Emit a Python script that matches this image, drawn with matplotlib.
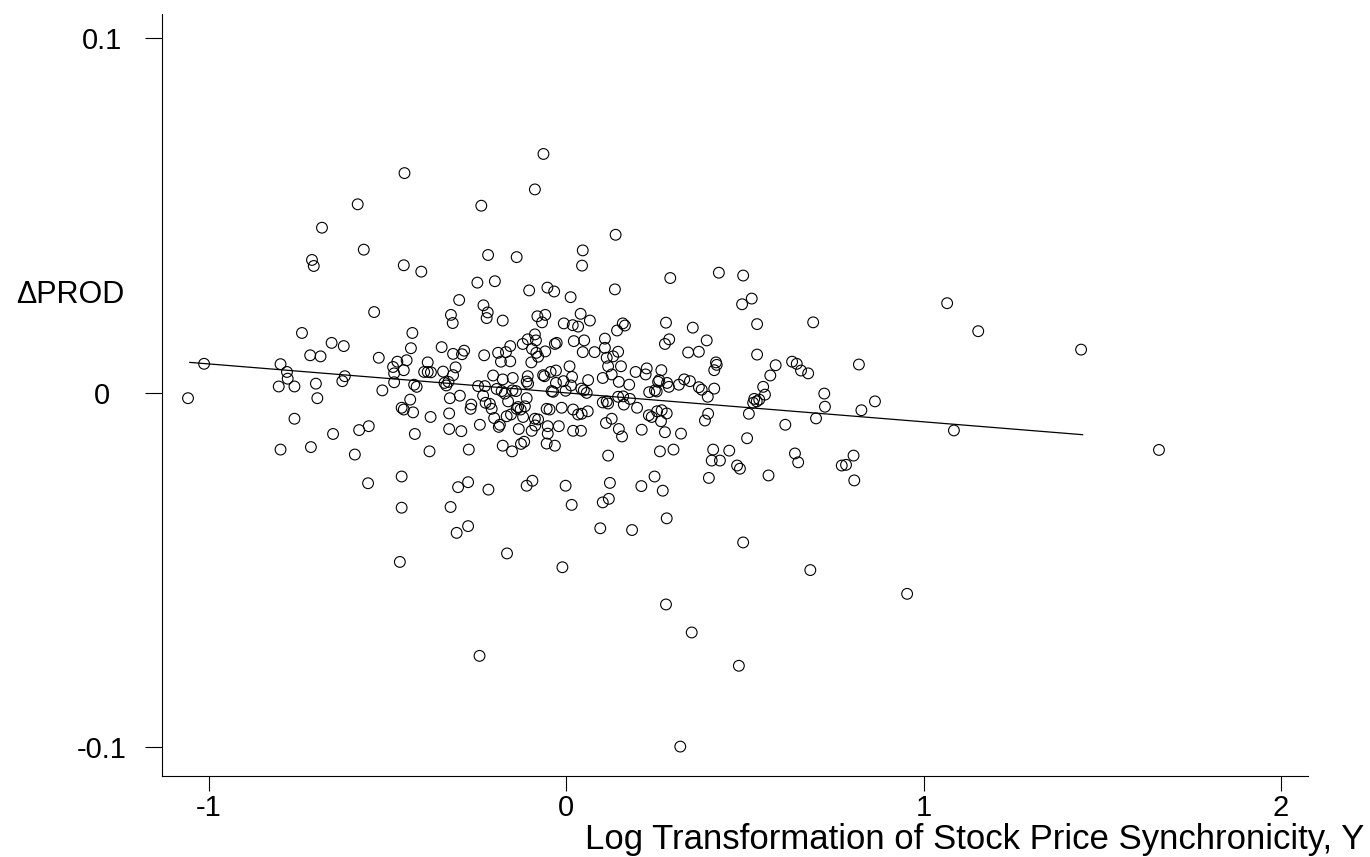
import matplotlib
matplotlib.use("Agg")
import matplotlib.pyplot as plt

# log transformation of stock price synchronicity (x) and change in productivity (y)
sync = [
    -0.584, -0.684, -0.567, -0.712, -0.707, -0.538, -0.740, -0.657, -0.623, -0.717,
    -0.688, -0.525, -1.014, -0.800, -0.473, -0.485, -0.482, -0.782, -0.780, -0.620,
    -0.627, -0.482, -0.805, -0.761, -0.701, -0.515, -1.059, -0.697, -0.761, -0.553,
    -0.580, -0.653, -0.592, -0.800, -0.715, -0.555, -0.466, -0.064, -0.453, -0.088,
    -0.238, 0.046, 0.044, -0.219, -0.139, -0.455, -0.406, -0.249, -0.200, -0.104,
    -0.053, -0.034, 0.012, -0.300, -0.232, -0.220, -0.223, -0.323, -0.318, -0.178,
    -0.081, -0.059, -0.068, 0.040, 0.066, -0.007, 0.018, 0.033, -0.431, -0.435,
    -0.349, -0.317, -0.292, -0.286, -0.230, -0.191, -0.169, -0.157, -0.183, -0.157,
    -0.122, -0.108, -0.088, -0.085, -0.096, -0.084, -0.059, -0.032, -0.027, 0.021,
    0.050, 0.046, 0.079, -0.447, -0.455, -0.388, -0.398, -0.388, -0.379, -0.345,
    -0.317, -0.310, -0.098, -0.079, 0.009, -0.044, -0.029, -0.065, -0.061, -0.108,
    -0.150, -0.205, -0.178, 0.016, 0.061, -0.008, -0.426, -0.419, -0.341, -0.336,
    -0.330, -0.247, -0.111, -0.107, -0.029, 0.013, 0.042, 0.049, 0.057, -0.228,
    -0.195, -0.181, -0.172, -0.151, -0.141, -0.041, -0.037, -0.002, -0.437, -0.461,
    -0.455, -0.429, -0.326, -0.298, -0.266, -0.268, -0.233, -0.226, -0.214, -0.209,
    -0.163, -0.139, -0.135, -0.128, -0.111, -0.116, -0.055, -0.047, -0.013, 0.019,
    0.033, 0.043, 0.060, -0.380, -0.328, -0.242, -0.202, -0.167, -0.155, -0.121,
    -0.189, -0.186, -0.088, -0.079, -0.087, -0.052, -0.021, 0.019, 0.041, -0.133,
    -0.097, -0.052, -0.424, -0.328, -0.294, -0.383, -0.273, -0.178, -0.152, -0.127,
    -0.118, -0.055, -0.032, -0.461, -0.303, -0.275, -0.218, -0.111, -0.095, -0.002,
    0.015, -0.324, -0.461, -0.307, -0.275, -0.166, 0.095, -0.011, -0.243, 0.138,
    0.136, 0.291, 0.427, 0.495, 0.519, 0.492, 0.158, 0.164, 0.142, 0.279,
    0.354, 0.534, 0.691, 0.288, 0.276, 0.393, 0.341, 0.371, 0.534, 0.419,
    0.421, 0.414, 0.586, 0.632, 0.645, 0.657, 0.677, 0.571, 0.108, 0.108,
    0.113, 0.131, 0.145, 0.117, 0.153, 0.102, 0.127, 0.194, 0.222, 0.225,
    0.266, 0.257, 0.260, 0.147, 0.176, 0.282, 0.287, 0.315, 0.330, 0.346,
    0.371, 0.379, 0.396, 0.414, 0.551, 0.556, 0.526, 0.533, 0.540, 0.523,
    0.248, 0.253, 0.232, 0.145, 0.159, 0.178, 0.102, 0.117, 0.113, 0.161,
    0.198, 0.231, 0.239, 0.254, 0.267, 0.281, 0.265, 0.397, 0.388, 0.511,
    0.699, 0.613, 0.127, 0.111, 0.147, 0.156, 0.211, 0.276, 0.321, 0.506,
    0.262, 0.300, 0.411, 0.456, 0.407, 0.430, 0.478, 0.486, 0.640, 0.649,
    0.117, 0.247, 0.399, 0.566, 0.122, 0.210, 0.270, 0.119, 0.102, 0.281,
    0.184, 0.495, 0.683, 0.279, 0.351, 0.483, 0.319, 1.066, 1.153, 1.441,
    0.819, 0.722, 0.724, 0.826, 0.864, 1.085, 0.804, 0.771, 0.783, 0.806, 1.659, 0.954,
]

dprod = [
    0.0532, 0.0466, 0.0404, 0.0375, 0.0358, 0.0228, 0.0169, 0.0141, 0.0132, 0.0106,
    0.0103, 0.0099, 0.0082, 0.0081, 0.0088, 0.0073, 0.0055, 0.0059, 0.0040, 0.0047,
    0.0033, 0.0030, 0.0018, 0.0018, 0.0026, 0.0007, -0.0015, -0.0015, -0.0073, -0.0094,
    -0.0105, -0.0116, -0.0174, -0.0160, -0.0153, -0.0255, -0.0477, 0.0674, 0.0620, 0.0574,
    0.0528, 0.0402, 0.0359, 0.0389, 0.0383, 0.0360, 0.0342, 0.0311, 0.0315, 0.0289,
    0.0297, 0.0286, 0.0270, 0.0262, 0.0247, 0.0227, 0.0211, 0.0220, 0.0197, 0.0204,
    0.0216, 0.0220, 0.0199, 0.0223, 0.0204, 0.0196, 0.0191, 0.0187, 0.0169, 0.0126,
    0.0129, 0.0110, 0.0109, 0.0119, 0.0106, 0.0113, 0.0115, 0.0132, 0.0088, 0.0089,
    0.0138, 0.0151, 0.0165, 0.0148, 0.0124, 0.0113, 0.0117, 0.0138, 0.0141, 0.0146,
    0.0148, 0.0115, 0.0115, 0.0092, 0.0064, 0.0086, 0.0059, 0.0059, 0.0058, 0.0060,
    0.0050, 0.0072, 0.0086, 0.0102, 0.0075, 0.0059, 0.0063, 0.0050, 0.0047, 0.0047,
    0.0042, 0.0049, 0.0038, 0.0045, 0.0036, 0.0033, 0.0023, 0.0017, 0.0028, 0.0021,
    0.0031, 0.0019, 0.0032, 0.0026, 0.0028, 0.0021, 0.0012, 0.0007, 0.0000, 0.0019,
    0.0011, 0.0005, -0.0002, 0.0007, 0.0005, 0.0005, 0.0003, 0.0006, -0.0019, -0.0042,
    -0.0047, -0.0055, -0.0015, -0.0008, -0.0033, -0.0045, -0.0008, -0.0028, -0.0031, -0.0045,
    -0.0024, -0.0045, -0.0040, -0.0047, -0.0015, -0.0038, -0.0045, -0.0047, -0.0042, -0.0047,
    -0.0061, -0.0059, -0.0052, -0.0068, -0.0058, -0.0090, -0.0071, -0.0066, -0.0061, -0.0068,
    -0.0096, -0.0090, -0.0073, -0.0075, -0.0092, -0.0094, -0.0094, -0.0107, -0.0107, -0.0102,
    -0.0107, -0.0115, -0.0116, -0.0102, -0.0108, -0.0165, -0.0160, -0.0149, -0.0165, -0.0144,
    -0.0138, -0.0143, -0.0149, -0.0236, -0.0266, -0.0252, -0.0273, -0.0262, -0.0248, -0.0262,
    -0.0316, -0.0322, -0.0324, -0.0395, -0.0376, -0.0453, -0.0382, -0.0492, -0.0742, 0.0446,
    0.0292, 0.0324, 0.0339, 0.0331, 0.0266, 0.0250, 0.0196, 0.0190, 0.0176, 0.0198,
    0.0184, 0.0194, 0.0199, 0.0151, 0.0138, 0.0148, 0.0114, 0.0116, 0.0108, 0.0086,
    0.0079, 0.0064, 0.0078, 0.0088, 0.0082, 0.0063, 0.0055, 0.0049, 0.0153, 0.0127,
    0.0099, 0.0103, 0.0116, 0.0075, 0.0075, 0.0042, 0.0052, 0.0059, 0.0052, 0.0069,
    0.0064, 0.0031, 0.0036, 0.0031, 0.0023, 0.0028, 0.0017, 0.0023, 0.0038, 0.0033,
    0.0016, 0.0009, -0.0011, 0.0012, 0.0017, -0.0005, -0.0017, -0.0024, -0.0019, -0.0028,
    0.0007, 0.0004, 0.0002, -0.0011, -0.0010, -0.0017, -0.0027, -0.0030, -0.0024, -0.0033,
    -0.0042, -0.0063, -0.0068, -0.0052, -0.0049, -0.0058, -0.0080, -0.0059, -0.0078, -0.0059,
    -0.0072, -0.0090, -0.0073, -0.0085, -0.0102, -0.0123, -0.0104, -0.0111, -0.0115, -0.0128,
    -0.0165, -0.0160, -0.0160, -0.0163, -0.0191, -0.0191, -0.0205, -0.0214, -0.0171, -0.0196,
    -0.0177, -0.0236, -0.0240, -0.0233, -0.0254, -0.0263, -0.0276, -0.0299, -0.0309, -0.0354,
    -0.0387, -0.0422, -0.0500, -0.0597, -0.0676, -0.0770, -0.0998, 0.0253, 0.0174, 0.0122,
    0.0080, -0.0002, -0.0039, -0.0049, -0.0024, -0.0106, -0.0177, -0.0205, -0.0203, -0.0247, -0.0161, -0.0567,
]

# fitted line end points as drawn in the original
fit_x = [-1.054, 1.445]
fit_y = [0.0086, -0.0118]

x_ticks = [-1, 0, 1, 2]
x_labels = ["-1", "0", "1", "2"]
y_ticks = [-0.1, 0, 0.1]
y_labels = ["-0.1", "0", "0.1"]

plt.rcParams['font.family'] = ['Liberation Sans', 'DejaVu Sans']

fig = plt.figure(figsize=(13.7, 8.57), dpi=100)
ax = fig.add_axes([0.1182, 0.0945, 0.8365, 0.8892])

ax.scatter(sync, dprod, s=60, facecolors='none', edgecolors='black', linewidths=0.8)
ax.plot(fit_x, fit_y, color='black', lw=0.9)

ax.set_xlim(-1.132, 2.076)
ax.set_ylim(-0.1081, 0.1069)

for side in ['top', 'right']:
    ax.spines[side].set_visible(False)
for side in ['left', 'bottom']:
    ax.spines[side].set_linewidth(0.8)

ax.set_xticks(x_ticks)
ax.set_xticklabels(x_labels)
ax.set_yticks(y_ticks)
ax.set_yticklabels(y_labels)
ax.tick_params(axis='x', length=11, width=0.8, pad=2, labelsize=21)
ax.tick_params(axis='y', length=12.2, width=0.8, pad=31, labelsize=21)
for lab in ax.get_yticklabels():
    lab.set_horizontalalignment('center')

fig.text(70 / 1370, 1 - 295 / 857, "\u0394PROD", ha='center', va='center', fontsize=22)
fig.text(1364 / 1370, 1 - 849 / 857, "Log Transformation of Stock Price Synchronicity, Y",
         ha='right', va='baseline', fontsize=25)

fig.savefig("out.png", dpi=100)
plt.close()
